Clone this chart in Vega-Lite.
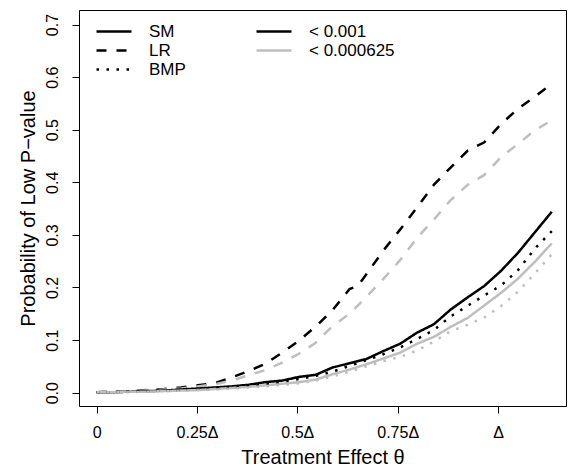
{
  "$schema": "https://vega.github.io/schema/vega-lite/v6.json",
  "autosize": "none",
  "width": 487,
  "height": 396,
  "padding": {"left": 79, "top": 10, "right": 4, "bottom": 62},
  "background": "white",
  "config": {
    "font": "Liberation Sans",
    "view": {"stroke": "black", "strokeWidth": 1},
    "axis": {"grid": false, "domain": false, "tickColor": "black", "tickSize": 7, "tickWidth": 1, "labelColor": "black", "titleColor": "black", "labelFont": "Liberation Sans", "titleFont": "Liberation Sans", "titleFontWeight": "normal"},
    "legend": {"labelFont": "Liberation Sans", "labelColor": "black"}
  },
  "data": {
    "values": [
      {"test": "LR", "p": "< 0.001", "x": [0,0.042,0.084,0.126,0.168,0.21,0.252,0.294,0.336,0.378,0.42,0.462,0.504,0.546,0.588,0.63,0.651,0.672,0.714,0.756,0.798,0.84,0.882,0.924,0.966,1.008,1.05,1.092,1.134], "y": [0.001,0.002,0.003,0.005,0.007,0.010,0.014,0.018,0.029,0.041,0.055,0.076,0.099,0.126,0.157,0.197,0.203,0.225,0.270,0.310,0.352,0.395,0.428,0.460,0.476,0.511,0.540,0.563,0.587]},
      {"test": "LR", "p": "< 0.000625", "x": [0,0.042,0.084,0.126,0.168,0.21,0.252,0.294,0.336,0.378,0.42,0.462,0.504,0.546,0.588,0.63,0.672,0.714,0.756,0.798,0.84,0.882,0.924,0.966,1.008,1.05,1.092,1.134], "y": [0.001,0.002,0.003,0.004,0.006,0.008,0.012,0.016,0.023,0.033,0.043,0.057,0.074,0.095,0.127,0.150,0.182,0.216,0.252,0.294,0.329,0.366,0.395,0.414,0.448,0.473,0.499,0.518]},
      {"test": "SM", "p": "< 0.001", "x": [0,0.042,0.084,0.126,0.168,0.21,0.252,0.294,0.336,0.378,0.42,0.462,0.504,0.546,0.588,0.63,0.672,0.714,0.756,0.798,0.84,0.882,0.924,0.966,1.008,1.05,1.092,1.134], "y": [0.001,0.001,0.002,0.003,0.004,0.006,0.008,0.010,0.012,0.015,0.020,0.023,0.030,0.034,0.048,0.056,0.064,0.079,0.093,0.114,0.130,0.158,0.181,0.203,0.232,0.266,0.305,0.344]},
      {"test": "SM", "p": "< 0.000625", "x": [0,0.042,0.084,0.126,0.168,0.21,0.252,0.294,0.336,0.378,0.42,0.462,0.504,0.546,0.588,0.63,0.672,0.714,0.756,0.798,0.84,0.882,0.924,0.966,1.008,1.05,1.092,1.134], "y": [0.001,0.001,0.002,0.002,0.003,0.004,0.005,0.007,0.009,0.011,0.014,0.017,0.020,0.025,0.035,0.044,0.054,0.065,0.076,0.093,0.106,0.125,0.142,0.166,0.190,0.217,0.249,0.284]},
      {"test": "BMP", "p": "< 0.001", "x": [0,0.042,0.084,0.126,0.168,0.21,0.252,0.294,0.336,0.378,0.42,0.462,0.504,0.546,0.588,0.63,0.672,0.714,0.756,0.798,0.84,0.882,0.924,0.966,1.008,1.05,1.092,1.134], "y": [0.001,0.001,0.002,0.003,0.004,0.005,0.007,0.009,0.011,0.014,0.017,0.021,0.026,0.032,0.040,0.051,0.062,0.073,0.086,0.102,0.119,0.145,0.165,0.185,0.204,0.233,0.274,0.307]},
      {"test": "BMP", "p": "< 0.000625", "x": [0,0.042,0.084,0.126,0.168,0.21,0.252,0.294,0.336,0.378,0.42,0.462,0.504,0.546,0.588,0.63,0.672,0.714,0.756,0.798,0.84,0.882,0.924,0.966,1.008,1.05,1.092,1.134], "y": [0.001,0.001,0.001,0.002,0.003,0.004,0.005,0.006,0.008,0.010,0.012,0.015,0.018,0.023,0.031,0.040,0.050,0.060,0.068,0.080,0.097,0.117,0.129,0.143,0.165,0.192,0.227,0.263]}
    ]
  },
  "transform": [{"flatten": ["x", "y"]}],
  "mark": {"type": "line", "strokeWidth": 2.5, "strokeCap": "butt", "clip": true},
  "encoding": {
    "x": {
      "field": "x", "type": "quantitative",
      "scale": {"domain": [-0.0441, 1.1695], "nice": false, "zero": false},
      "axis": {
        "values": [0, 0.25, 0.5, 0.75, 1],
        "labelExpr": "datum.value == 0 ? '0' : (datum.value == 1 ? 'Δ' : datum.value + 'Δ')",
        "labelFontSize": 16, "labelBaseline": "alphabetic", "labelPadding": 24, "labelFlush": false,
        "title": "Treatment Effect θ", "titleFontSize": 20, "titleX": 243.5, "titleY": 57, "titleBaseline": "alphabetic", "titleAlign": "center"
      }
    },
    "y": {
      "field": "y", "type": "quantitative",
      "scale": {"domain": [-0.0253, 0.7276], "nice": false, "zero": false},
      "axis": {
        "values": [0, 0.1, 0.2, 0.3, 0.4, 0.5, 0.6, 0.7],
        "format": ".1f",
        "labelAngle": -90, "labelAlign": "center", "labelBaseline": "alphabetic", "labelPadding": 15, "labelFontSize": 16, "labelFlush": false,
        "title": "Probability of Low P−value", "titleFontSize": 20, "titleAngle": -90, "titleX": -45, "titleY": 198, "titleAlign": "center", "titleBaseline": "alphabetic"
      }
    },
    "color": {
      "field": "p", "type": "nominal",
      "scale": {"domain": ["< 0.001", "< 0.000625"], "range": ["#000000", "#BEBEBE"]},
      "legend": {"orient": "none", "legendX": 176, "legendY": 12, "title": null, "symbolType": "stroke", "symbolSize": 1225, "symbolStrokeWidth": 2.5, "labelFontSize": 17, "labelOffset": 16, "clipHeight": 19, "rowPadding": 0, "padding": 0}
    },
    "strokeDash": {
      "field": "test", "type": "nominal",
      "scale": {"domain": ["SM", "LR", "BMP"], "range": [[1, 0], [10, 10], [2.5, 7.5]]},
      "legend": {"orient": "none", "legendX": 16, "legendY": 12, "title": null, "symbolType": "stroke", "symbolSize": 1225, "symbolStrokeWidth": 2.5, "symbolStrokeColor": "black", "labelFontSize": 17, "labelOffset": 16, "clipHeight": 19, "rowPadding": 0, "padding": 0}
    }
  }
}
